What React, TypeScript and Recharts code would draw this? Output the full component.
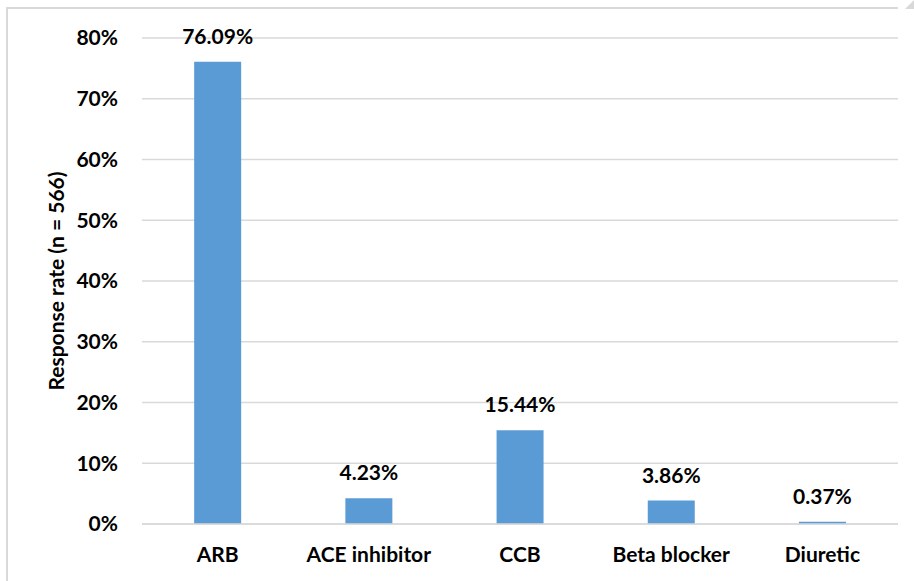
import { BarChart, Bar, XAxis, YAxis, CartesianGrid, LabelList } from 'recharts';

// Values
const categories = ['ARB', 'ACE inhibitor', 'CCB', 'Beta blocker', 'Diuretic'];
const responseRates = [76.09, 4.23, 15.44, 3.86, 0.37];
const yTicks = [0, 10, 20, 30, 40, 50, 60, 70, 80];

const data = categories.map((name, i) => ({ name, value: responseRates[i] }));

const FONT = 'Lato, "Open Sans", sans-serif';
const textStyle = { fill: '#000', fontSize: 21, fontWeight: 700, fontFamily: FONT };

export default function App() {
  return (
    <div style={{ position: 'absolute', left: 0, top: 0, width: 914, height: 581, background: '#fff', fontFamily: FONT }}>
      {/* frame around the chart, as in the screenshot */}
      <div
        style={{
          position: 'absolute',
          left: 6,
          top: 7,
          width: 890,
          height: 580,
          borderLeft: '2px solid #d9d9d9',
          borderTop: '2px solid #d9d9d9',
        }}
      />
      <div
        style={{
          position: 'absolute',
          left: 896,
          top: 0,
          width: 0,
          height: 0,
          borderLeft: '9px solid transparent',
          borderRight: '9px solid #d9d9d9',
          borderTop: '9px solid transparent',
        }}
      />
      <BarChart
        width={914}
        height={581}
        data={data}
        margin={{ top: 38, right: 16, left: 0, bottom: 0 }}
        barCategoryGap="34.5%"
        style={{ position: 'absolute', left: 0, top: 0 }}
      >
        <CartesianGrid vertical={false} stroke="#d9d9d9" strokeWidth={1.5} />
        <XAxis
          dataKey="name"
          height={57}
          axisLine={{ stroke: '#d9d9d9', strokeWidth: 1.5 }}
          tickLine={false}
          tickMargin={17}
          tick={textStyle}
        />
        <YAxis
          width={142}
          domain={[0, 80]}
          ticks={yTicks}
          interval={0}
          axisLine={false}
          tickLine={false}
          tickMargin={18}
          tickFormatter={(v: number) => `${v}%`}
          tick={textStyle}
          label={{
            value: 'Response rate (n = 566)',
            angle: -90,
            position: 'center',
            dx: -14,
            style: { ...textStyle, textAnchor: 'middle' },
          }}
        />
        <Bar dataKey="value" fill="#5b9bd5" isAnimationActive={false}>
          <LabelList
            dataKey="value"
            position="top"
            offset={18}
            formatter={(v: number) => `${v.toFixed(2)}%`}
            style={textStyle}
          />
        </Bar>
      </BarChart>
    </div>
  );
}
